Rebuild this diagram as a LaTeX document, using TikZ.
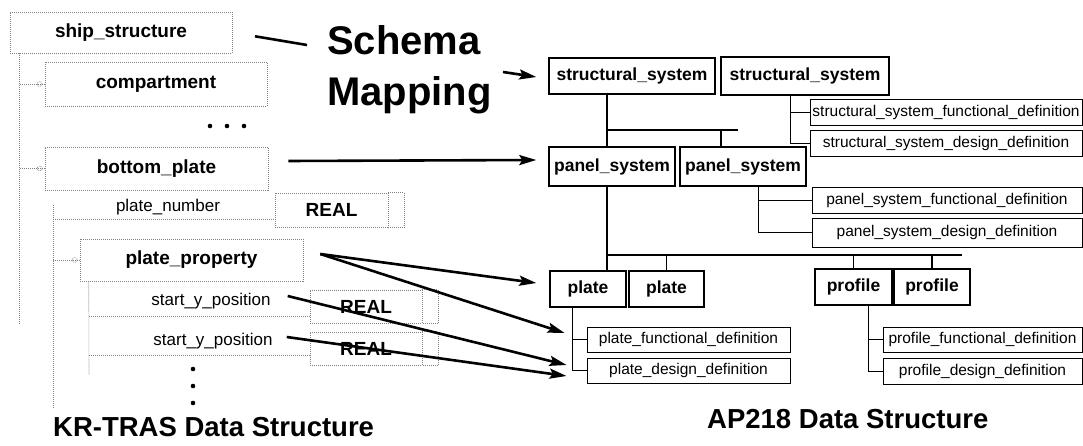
\documentclass[tikz,border=0pt]{standalone}
\usepackage{fontspec}
\setmainfont{Liberation Sans}
\usetikzlibrary{positioning,calc,arrows.meta}

\begin{document}
\begin{tikzpicture}[
	x=1pt, y=-1pt,
	krline/.style={draw=gray, dash pattern=on 1pt off 1pt, line width=0.6pt},
	apline/.style={draw=black, line width=0.9pt},
	aptrunk/.style={draw=black, line width=1.8pt},
	mapline/.style={line width=2.6pt},
	maparrow/.style={line width=2.6pt, -{Stealth[length=17pt,width=10pt,inset=3pt]}}
]
\tikzset{
    krbox/.style = {rectangle, krline, inner sep=0pt, font=\bfseries\fontsize{19}{22}\selectfont},
    krtext/.style = {inner sep=0pt, font=\fontsize{17}{20}\selectfont},
    realbox/.style = {rectangle, krline, inner sep=0pt, font=\bfseries\fontsize{19}{22}\selectfont},
    apbox/.style = {rectangle, draw=black, line width=1.4pt, inner sep=0pt, font=\bfseries\fontsize{17.5}{20}\selectfont},
    defbox/.style = {rectangle, draw=black, line width=0.9pt, inner sep=0pt, font=\fontsize{15.5}{18}\selectfont},
    title/.style = {inner sep=0pt, anchor=base west, font=\bfseries\fontsize{27.5}{30}\selectfont},
}
\useasboundingbox (0,0) rectangle (1083,446);

    % KR-TRAS side
    \node (ship) [krbox, minimum width=222pt, minimum height=41pt] at (121,32.5) {ship\_structure};
    \node (comp) [krbox, minimum width=222pt, minimum height=44pt] at (156,84) {compartment};
    \node (bp) [krbox, minimum width=223pt, minimum height=43pt] at (156.5,168.5) {bottom\_plate};
    \node (pn) [krtext] at (168,207) {plate\_number};
    \node (rl1) [realbox, minimum width=113pt, minimum height=34pt] at (331.5,210) {REAL};
    \node (pp) [krbox, minimum width=223pt, minimum height=42pt] at (191.5,260) {plate\_property};
    \node (sy1) [krtext] at (211,301) {start\_y\_position};
    \node (rl2) [realbox, minimum width=112pt, minimum height=33pt] at (366,306.5) {REAL};
    \node (sy2) [krtext] at (213,341) {start\_y\_position};
    \node (rl3) [realbox, minimum width=112pt, minimum height=33pt] at (366,348.5) {REAL};

    \draw[krline] (ship.south west) ++(10,0) -- ++(0,272);
    \draw[krline] (comp.west) -- ++(-25,0);
    \draw[krline] ($(comp.west)+(-5,0)$) circle (2.5pt);
    \draw[krline] (bp.west) -- ++(-25,0);
    \draw[krline] ($(bp.west)+(-5,0)$) circle (2.5pt);
    \draw[krline] (53,205) -- (53,408);
    \draw[krline] (53,219) -- (rl1.south west |- 0,219);
    \draw[krline] (pp.west) -- ++(-27,0);
    \draw[krline] ($(pp.west)+(-5,0)$) circle (2.5pt);
    \draw[krline] (pp.south west) ++(9,0) -- (89,375);
    \draw[krline] (89,316) -- (rl2.west |- 0,316);
    \draw[krline] (89,355) -- (rl3.west |- 0,355);
    \foreach \r in {rl1,rl2,rl3}
        \draw[krline] (\r.north east) -- ++(16,0) -- ($(\r.south east)+(16,0)$) -- (\r.south east);
    \foreach \x in {210,227,244}
        \fill (\x,126) circle (2.3pt);
    \foreach \y in {369,386,403}
        \fill (193,\y) circle (2.3pt);

    \node[title] (krt) at (53,436) {KR-TRAS Data Structure};

    % mapping
    \node (schema) [inner sep=0pt, anchor=base west, font=\bfseries\fontsize{40}{48}\selectfont] at (327,55) {Schema};
    \node (mapping) [inner sep=0pt, anchor=base west, font=\bfseries\fontsize{40}{48}\selectfont] at (327,106) {Mapping};
    \coordinate (smin) at (307,45);
    \coordinate (smout) at (503,72);

    % AP218 side
    \node (ss1) [apbox, minimum width=166pt, minimum height=36pt] at (632,76) {structural\_system};
    \node (ss2) [apbox, minimum width=168pt, minimum height=38pt] at (805,76) {structural\_system};
    \node (ssfd) [defbox, minimum width=272pt, minimum height=26pt] at (946,112) {structural\_system\_functional\_definition};
    \node (ssdd) [defbox, minimum width=272pt, minimum height=26pt] at (946,143) {structural\_system\_design\_definition};
    \node (ps1) [apbox, minimum width=126pt, minimum height=39pt] at (612,166.5) {panel\_system};
    \node (ps2) [apbox, minimum width=126pt, minimum height=39pt] at (743,166.5) {panel\_system};
    \node (psfd) [defbox, minimum width=270pt, minimum height=26pt] at (947,200) {panel\_system\_functional\_definition};
    \node (psdd) [defbox, minimum width=270pt, minimum height=29pt] at (947,232.5) {panel\_system\_design\_definition};
    \node (pl1) [apbox, minimum width=76pt, minimum height=36pt] at (588,289) {plate};
    \node (pl2) [apbox, minimum width=75pt, minimum height=36pt] at (666.5,289) {plate};
    \node (pr1) [apbox, minimum width=77pt, minimum height=36pt] at (853.5,287) {profile};
    \node (pr2) [apbox, minimum width=76pt, minimum height=36pt] at (932,287) {profile};
    \node (plfd) [defbox, minimum width=203pt, minimum height=25pt] at (688.5,339.5) {plate\_functional\_definition};
    \node (pldd) [defbox, minimum width=203pt, minimum height=25pt] at (688.5,370.5) {plate\_design\_definition};
    \node (prfd) [defbox, minimum width=199pt, minimum height=25pt] at (982.5,339.5) {profile\_functional\_definition};
    \node (prdd) [defbox, minimum width=199pt, minimum height=26pt] at (982.5,371) {profile\_design\_definition};

    \node[title] (apt) at (707,428) {AP218 Data Structure};

    \coordinate (t1) at (607,0);
    \coordinate (j1) at (607,130);
    \coordinate (j2) at (721,130);
    \coordinate (j3) at (607,255);
    \coordinate (b1) at (790,0);
    \coordinate (b2) at (758,0);
    \coordinate (b3) at (572,0);
    \coordinate (b4) at (868,0);

    \draw[aptrunk] (ss1.south -| t1) -- (ps1.north -| t1);
    \draw[aptrunk] (j1) -- (738,130);
    \draw[aptrunk] (j2) -- (ps2.north -| j2);
    \draw[apline] (ss2.south -| b1) |- (ssfd.west);
    \draw[apline] (ss2.south -| b1) |- (ssdd.west);
    \draw[apline] (ps2.south -| b2) |- (psfd.west);
    \draw[apline] (ps2.south -| b2) |- (psdd.west);
    \draw[aptrunk] (ps1.south -| t1) -- (pl1.north -| t1);
    \draw[aptrunk] (j3) -- (962,255);
    \draw[aptrunk] (pl2.north |- j3) -- (pl2.north);
    \draw[aptrunk] (pr1.north |- j3) -- (pr1.north);
    \draw[aptrunk] (pr2.north |- j3) -- (pr2.north);
    \draw[apline] (pl1.south -| b3) |- (plfd.west);
    \draw[apline] (pl1.south -| b3) |- (pldd.west);
    \draw[apline] (pr1.south -| b4) |- (prfd.west);
    \draw[apline] (pr1.south -| b4) |- (prdd.west);

    % mapping arrows
    \draw[mapline, shorten <=23pt] (ship.east) -- (smin);
    \draw[maparrow] (smout) -- ($(ss1.west)+(-12,1)$);
    \draw[maparrow] ($(bp.east)+(20,-7.5)$) -- ($(ps1.west)+(-12,-6.5)$);
    \draw[maparrow] ($(pp.east)+(17,-6)$) -- ($(pl1.west)+(-13,-6)$);
    \draw[maparrow] ($(pp.east)+(17,-6)$) -- ($(plfd.west)+(-22,-6.5)$);
    \draw[maparrow] ($(sy1.east)+(17,-5)$) -- ($(pldd.west)+(-20,-5.5)$);
    \draw[maparrow] ($(sy2.east)+(14,-4)$) -- ($(pldd.west)+(-20,5.5)$);
\end{tikzpicture}
\end{document}
